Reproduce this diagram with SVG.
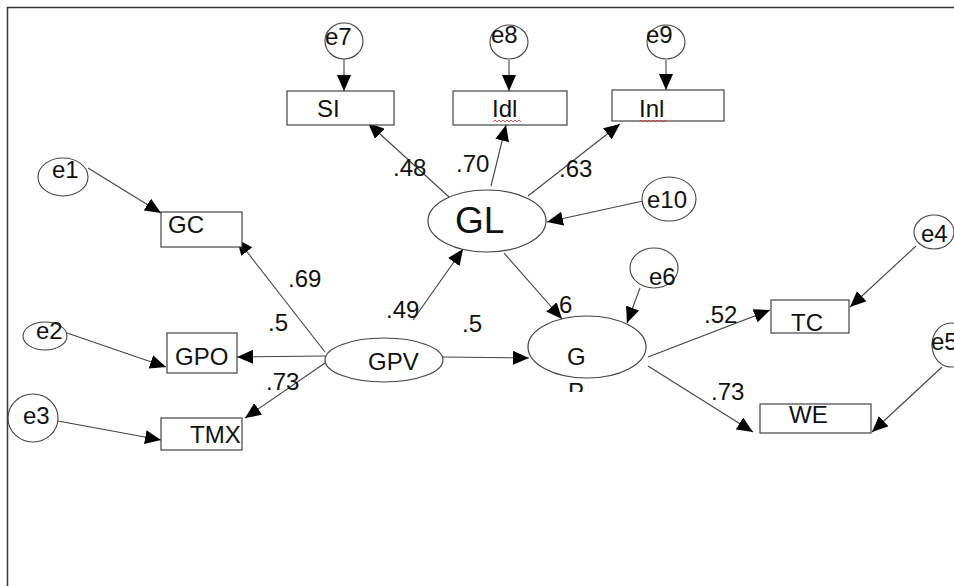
<svg xmlns="http://www.w3.org/2000/svg" width="954" height="586" viewBox="0 0 954 586">
  <defs>
    <marker id="arrow" markerUnits="userSpaceOnUse" markerWidth="17" markerHeight="14" refX="16" refY="7" orient="auto">
      <path d="M0,0 L16,7 L0,14 Z" fill="#000"/>
    </marker>
    <clipPath id="clip-gp">
      <rect x="540" y="300" width="100" height="92"/>
    </clipPath>
    <style>
      text { font-family: "Liberation Sans", Arial, sans-serif; font-size: 24px; fill: #111; }
      .obs { fill: #fff; stroke: #444; stroke-width: 1.2; }
      .lat { fill: #fff; stroke: #444; stroke-width: 1.2; }
      .err { fill: #fff; stroke: #444; stroke-width: 1.1; }
      .edge { stroke: #444; stroke-width: 1.1; fill: none; marker-end: url(#arrow); }
      .frame { stroke: #333; stroke-width: 1.5; fill: none; }
      .squiggle { stroke: #d04040; stroke-width: 0.9; fill: none; }
      .big { font-size: 37px; }
    </style>
  </defs>

  <rect width="954" height="586" fill="#fff"/>
  <path class="frame" d="M7.5,586 V7.5 H954"/>

  <!-- connectors -->
  <g id="connectors">
    <line class="edge" x1="344" y1="59" x2="344" y2="91"/>
    <line class="edge" x1="509" y1="60" x2="509" y2="91"/>
    <line class="edge" x1="666" y1="60" x2="666" y2="90"/>
    <line class="edge" x1="449" y1="197" x2="368" y2="123"/>
    <line class="edge" x1="491" y1="186" x2="506" y2="125"/>
    <line class="edge" x1="528" y1="196" x2="620" y2="124"/>
    <line class="edge" x1="643" y1="201" x2="547" y2="222"/>
    <line class="edge" x1="88" y1="168" x2="161" y2="213"/>
    <line class="edge" x1="325" y1="352" x2="237" y2="239"/>
    <line class="edge" x1="67" y1="333" x2="166" y2="367"/>
    <line class="edge" x1="325" y1="356" x2="237" y2="357"/>
    <line class="edge" x1="325" y1="363" x2="245" y2="418"/>
    <line class="edge" x1="58" y1="421" x2="161" y2="440"/>
    <line class="edge" x1="413" y1="320" x2="463" y2="249"/>
    <line class="edge" x1="443" y1="357" x2="529" y2="358"/>
    <line class="edge" x1="504" y1="253" x2="562" y2="319"/>
    <line class="edge" x1="640" y1="288" x2="627" y2="323"/>
    <line class="edge" x1="648" y1="357" x2="770" y2="310"/>
    <line class="edge" x1="648" y1="366" x2="753" y2="432"/>
    <line class="edge" x1="916" y1="246" x2="850" y2="307"/>
    <line class="edge" x1="942" y1="367" x2="872" y2="432"/>
  </g>

  <!-- path coefficients -->
  <g id="coefficients">
    <text x="393" y="176">.48</text>
    <text x="456" y="172">.70</text>
    <text x="559" y="177">.63</text>
    <text x="288" y="287">.69</text>
    <text x="268" y="331">.5</text>
    <text x="266" y="390">.73</text>
    <text x="386" y="318">.49</text>
    <text x="462" y="332">.5</text>
    <text x="559" y="313">6</text>
    <text x="704" y="323">.52</text>
    <text x="711" y="400">.73</text>
  </g>

  <!-- error terms -->
  <g id="e7"><ellipse class="err" cx="344" cy="41" rx="19" ry="18"/><text x="325" y="45">e7</text></g>
  <g id="e8"><ellipse class="err" cx="509" cy="42" rx="19" ry="17"/><text x="491" y="43">e8</text></g>
  <g id="e9"><ellipse class="err" cx="666" cy="42" rx="19" ry="17"/><text x="646" y="43">e9</text></g>
  <g id="e10"><ellipse class="err" cx="669" cy="199" rx="27" ry="22"/><text x="647" y="208">e10</text></g>
  <g id="e1"><ellipse class="err" cx="63" cy="177" rx="25" ry="19"/><text x="52" y="178">e1</text></g>
  <g id="e2"><ellipse class="err" cx="45" cy="336" rx="22" ry="14"/><text x="36" y="339">e2</text></g>
  <g id="e3"><ellipse class="err" cx="33" cy="418" rx="25" ry="24"/><text x="23" y="424">e3</text></g>
  <g id="e6"><ellipse class="err" cx="654" cy="268" rx="24" ry="20"/><text x="649" y="285">e6</text></g>
  <g id="e4"><ellipse class="err" cx="934" cy="232" rx="20" ry="17"/><text x="921" y="242">e4</text></g>
  <g id="e5"><ellipse class="err" cx="951" cy="345" rx="19" ry="22"/><text x="931" y="350">e5</text></g>

  <!-- observed variables -->
  <g id="SI"><rect class="obs" x="287" y="91" width="107" height="34"/><text x="317" y="117">SI</text></g>
  <g id="Idl">
    <rect class="obs" x="453" y="91" width="114" height="34"/>
    <text x="492" y="117">Idl</text>
    <path class="squiggle" d="M493,122 l2,-2 l2,2 l2,-2 l2,2 l2,-2 l2,2 l2,-2 l2,2 l2,-2 l2,2 l2,-2 l2,2 l2,-2 l2,2"/>
  </g>
  <g id="Inl">
    <rect class="obs" x="612" y="90" width="112" height="31"/>
    <text x="639" y="117">Inl</text>
    <path class="squiggle" d="M639,122 l2,-2 l2,2 l2,-2 l2,2 l2,-2 l2,2 l2,-2 l2,2 l2,-2 l2,2 l2,-2 l2,2 l2,-2 l2,2"/>
  </g>
  <g id="GC"><rect class="obs" x="161" y="212" width="81" height="35"/><text x="168" y="233">GC</text></g>
  <g id="GPO"><rect class="obs" x="167" y="333" width="70" height="40"/><text x="175" y="365">GPO</text></g>
  <g id="TMX"><rect class="obs" x="161" y="418" width="81" height="32"/><text x="190" y="443">TMX</text></g>
  <g id="TC"><rect class="obs" x="771" y="300" width="78" height="33"/><text x="791" y="331">TC</text></g>
  <g id="WE"><rect class="obs" x="760" y="404" width="111" height="29"/><text x="789" y="423">WE</text></g>

  <!-- latent variables -->
  <g id="GL"><ellipse class="lat" cx="487" cy="221" rx="59" ry="31"/><text class="big" x="455" y="233">GL</text></g>
  <g id="GPV"><ellipse class="lat" cx="384" cy="360" rx="59" ry="22"/><text x="368" y="370">GPV</text></g>
  <g id="GP">
    <ellipse class="lat" cx="587" cy="347" rx="59" ry="31"/>
    <text x="567" y="365">G</text>
    <text x="568" y="400" clip-path="url(#clip-gp)">P</text>
  </g>
</svg>
